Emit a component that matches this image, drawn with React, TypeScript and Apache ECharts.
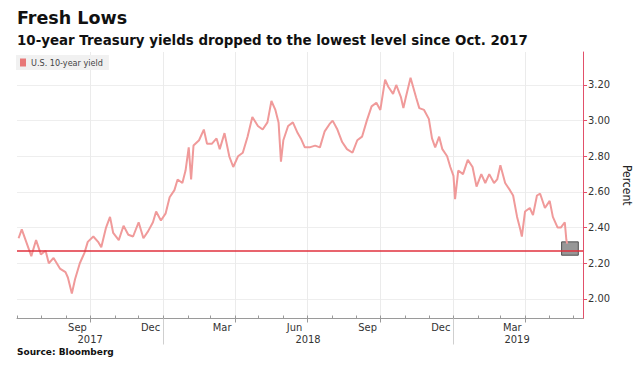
import React, { useEffect, useRef } from "react";
import * as echarts from "echarts";

const dates = [
  "2017-07-03","2017-07-07","2017-07-19","2017-07-25","2017-07-31","2017-08-06","2017-08-10","2017-08-16",
  "2017-08-24","2017-08-31","2017-09-03","2017-09-08","2017-09-12","2017-09-18","2017-09-24","2017-09-28",
  "2017-10-05","2017-10-11","2017-10-15","2017-10-21","2017-10-26","2017-10-30","2017-11-06","2017-11-12",
  "2017-11-18","2017-11-24","2017-12-01","2017-12-07","2017-12-13","2017-12-19","2017-12-23","2017-12-29",
  "2018-01-04","2018-01-09","2018-01-15","2018-01-19","2018-01-25","2018-01-29","2018-02-02","2018-02-05",
  "2018-02-08","2018-02-15","2018-02-21","2018-02-25","2018-03-03","2018-03-09","2018-03-13","2018-03-19",
  "2018-03-25","2018-03-30","2018-04-05","2018-04-11","2018-04-17","2018-04-23","2018-04-30","2018-05-06",
  "2018-05-12","2018-05-17","2018-05-22","2018-05-26","2018-05-29","2018-06-01","2018-06-07","2018-06-13",
  "2018-06-19","2018-06-23","2018-06-28","2018-07-04","2018-07-11","2018-07-17","2018-07-23","2018-07-29",
  "2018-08-02","2018-08-08","2018-08-14","2018-08-20","2018-08-27","2018-09-02","2018-09-08","2018-09-14",
  "2018-09-20","2018-09-26","2018-10-01","2018-10-07","2018-10-11","2018-10-17","2018-10-21","2018-10-27",
  "2018-10-30","2018-11-02","2018-11-08","2018-11-15","2018-11-19","2018-11-25","2018-12-01","2018-12-05",
  "2018-12-09","2018-12-14","2018-12-18","2018-12-24","2018-12-28","2019-01-01","2019-01-03","2019-01-07",
  "2019-01-13","2019-01-19","2019-01-25","2019-01-30","2019-02-05","2019-02-10","2019-02-15","2019-02-21",
  "2019-02-25","2019-03-01","2019-03-07","2019-03-13","2019-03-17","2019-03-22","2019-03-26","2019-03-28",
  "2019-04-01","2019-04-07","2019-04-11","2019-04-16","2019-04-20","2019-04-26","2019-05-02","2019-05-06",
  "2019-05-12","2019-05-16","2019-05-21","2019-05-23","2019-05-24"
];
const yields = [
  2.34,2.39,2.24,2.33,2.25,2.27,2.20,2.23,
  2.17,2.15,2.12,2.03,2.11,2.20,2.26,2.32,
  2.35,2.32,2.29,2.40,2.46,2.37,2.33,2.41,
  2.36,2.35,2.43,2.34,2.38,2.43,2.49,2.44,
  2.48,2.57,2.61,2.67,2.65,2.72,2.85,2.67,
  2.86,2.89,2.95,2.87,2.87,2.90,2.84,2.93,
  2.80,2.74,2.80,2.82,2.91,3.02,2.97,2.95,
  2.99,3.11,3.06,2.99,2.77,2.89,2.97,2.99,
  2.93,2.90,2.85,2.85,2.86,2.85,2.94,2.98,
  3.00,2.95,2.88,2.84,2.82,2.89,2.91,3.00,
  3.08,3.10,3.06,3.23,3.19,3.15,3.20,3.13,
  3.07,3.13,3.24,3.13,3.07,3.06,3.01,2.90,
  2.85,2.91,2.84,2.80,2.74,2.69,2.56,2.72,
  2.70,2.78,2.74,2.63,2.70,2.65,2.70,2.65,
  2.67,2.75,2.65,2.61,2.58,2.46,2.39,2.35,
  2.49,2.51,2.47,2.58,2.59,2.51,2.55,2.46,
  2.40,2.40,2.43,2.33,2.31
];

const monthTicks = [
  "2017-07-01","2017-08-01","2017-09-01","2017-10-01","2017-11-01","2017-12-01",
  "2018-01-01","2018-02-01","2018-03-01","2018-04-01","2018-05-01","2018-06-01",
  "2018-07-01","2018-08-01","2018-09-01","2018-10-01","2018-11-01","2018-12-01",
  "2019-01-01","2019-02-01","2019-03-01","2019-04-01","2019-05-01","2019-06-01"
];
const quarterTicks = ["2017-10-01","2018-01-01","2018-04-01","2018-07-01","2018-10-01","2019-01-01","2019-04-01"];
const monthLabelDates = ["2017-09-15","2017-12-16","2018-03-16","2018-06-15","2018-09-15","2018-12-16","2019-03-16"];
const monthLabels = ["Sep","Dec","Mar","Jun","Sep","Dec","Mar"];
const yearSeparators = ["2018-01-01","2019-01-01"];
const yearLabelDates = ["2017-10-01","2018-07-02","2019-03-22"];
const yearLabels = ["2017","2018","2019"];
const yTicks = [2.0, 2.2, 2.4, 2.6, 2.8, 3.0, 3.2];
const referenceLevel = [2.27];
const boxDates = ["2019-05-17","2019-06-07"];
const boxValues = [2.32, 2.245];
const xRange = ["2017-07-01","2019-06-13"];
const yRange = [1.89, 3.385];

function ts(s: string): number {
  const [y, m, d] = s.split("-").map(Number);
  return Date.UTC(y, m - 1, d);
}

const narrow = "'Liberation Sans Narrow', 'DejaVu Sans Condensed', 'Roboto', sans-serif";

export default function App() {
  const ref = useRef<HTMLDivElement>(null);
  useEffect(() => {
    document.body.style.margin = "0";
    const chart = echarts.init(ref.current!, null, { renderer: "svg" });
    const monthLabelTs = monthLabelDates.map(ts);
    const yearLabelTs = yearLabelDates.map(ts);
    const xMin = ts(xRange[0]);
    const xMax = ts(xRange[1]);
    const findLabel = (arr: number[], labels: string[], v: number) => {
      let best = -1, bd = Infinity;
      arr.forEach((a, i) => { const d = Math.abs(a - v); if (d < bd) { bd = d; best = i; } });
      return best >= 0 && bd < 86400000 ? labels[best] : "";
    };
    chart.setOption({
      animation: false,
      backgroundColor: "#ffffff",
      title: [
        { text: "Fresh Lows", left: 17, top: 9, padding: 0,
          textStyle: { fontSize: 17.5, fontWeight: "bold", color: "#111", fontFamily: "'DejaVu Sans', sans-serif" } },
        { text: "10-year Treasury yields dropped to the lowest level since Oct. 2017", left: 17, top: 34, padding: 0,
          textStyle: { fontSize: 13.4, fontWeight: "bold", color: "#111", fontFamily: "'DejaVu Sans', sans-serif" } },
        { text: "Source: Bloomberg", left: 17, top: 347, padding: 0,
          textStyle: { fontSize: 9, fontWeight: "bold", color: "#111", fontFamily: "'DejaVu Sans', sans-serif" } }
      ],
      legend: {
        data: ["U.S. 10-year yield"], left: 16, top: 55, backgroundColor: "#f1f1f1",
        padding: [3, 6, 3, 4], icon: "rect", itemWidth: 6, itemHeight: 8,
        textStyle: { fontSize: 9, color: "#444", fontFamily: narrow },
        itemStyle: { color: "#e87878" }
      },
      grid: { left: 17, right: 48, top: 52, bottom: 47.5 },
      xAxis: [
        {
          type: "value", min: xMin, max: xMax, scale: true,
          axisLine: { show: true, onZero: false, lineStyle: { color: "#9a9a9a", width: 1 } },
          axisTick: { show: true, inside: true, length: 3, customValues: monthTicks.map(ts), lineStyle: { color: "#9a9a9a" } },
          axisLabel: {
            show: true, customValues: monthLabelTs, margin: 3, color: "#333", fontSize: 11, fontFamily: narrow,
            formatter: (v: number) => findLabel(monthLabelTs, monthLabels, v)
          },
          splitLine: { show: false }
        },
        {
          type: "value", min: xMin, max: xMax, scale: true, position: "bottom",
          axisLine: { show: false, onZero: false },
          axisTick: { show: true, length: 4, customValues: quarterTicks.map(ts), lineStyle: { color: "#9a9a9a" } },
          axisLabel: { show: false },
          splitLine: { show: true, lineStyle: { color: "#ebebeb", width: 1 } }
        },
        {
          type: "value", min: xMin, max: xMax, scale: true, position: "bottom",
          axisLine: { show: false, onZero: false },
          axisTick: { show: true, length: 26, customValues: yearSeparators.map(ts), lineStyle: { color: "#cfcfcf" } },
          axisLabel: {
            show: true, customValues: yearLabelTs, margin: 15, color: "#333", fontSize: 11, fontFamily: narrow,
            formatter: (v: number) => findLabel(yearLabelTs, yearLabels, v)
          },
          splitLine: { show: false }
        }
      ],
      yAxis: {
        type: "value", position: "right", min: yRange[0], max: yRange[1],
        axisLine: { show: true, lineStyle: { color: "#e2506a", width: 1 } },
        axisTick: { show: true, length: 4, customValues: yTicks, lineStyle: { color: "#e2506a" } },
        axisLabel: { customValues: yTicks, margin: 5, color: "#333", fontSize: 11, fontFamily: narrow,
          formatter: (v: number) => v.toFixed(2) },
        splitLine: { show: true, lineStyle: { color: "#eeeeee", width: 1 } },
        name: "Percent", nameLocation: "middle", nameRotate: -90, nameGap: 30,
        nameTextStyle: { fontSize: 12, color: "#222", fontFamily: narrow }
      },
      series: [
        {
          name: "U.S. 10-year yield", type: "line", xAxisIndex: 0, yAxisIndex: 0,
          data: dates.map((d, i) => [ts(d), yields[i]]),
          showSymbol: false, symbol: "none",
          lineStyle: { color: "#f09a9a", width: 2 },
          itemStyle: { color: "#e87878" },
          markLine: {
            silent: true, symbol: ["none", "none"], label: { show: false },
            lineStyle: { color: "#e0303c", width: 1.5, type: "solid" },
            data: referenceLevel.map((v) => ({ yAxis: v }))
          },
          markArea: {
            silent: true,
            itemStyle: { color: "rgba(95,95,95,0.65)", borderColor: "#505050", borderWidth: 1 },
            data: [[{ coord: [ts(boxDates[0]), boxValues[0]] }, { coord: [ts(boxDates[1]), boxValues[1]] }]]
          }
        }
      ]
    });
    return () => chart.dispose();
  }, []);
  return <div ref={ref} style={{ width: 641, height: 366 }} />;
}
